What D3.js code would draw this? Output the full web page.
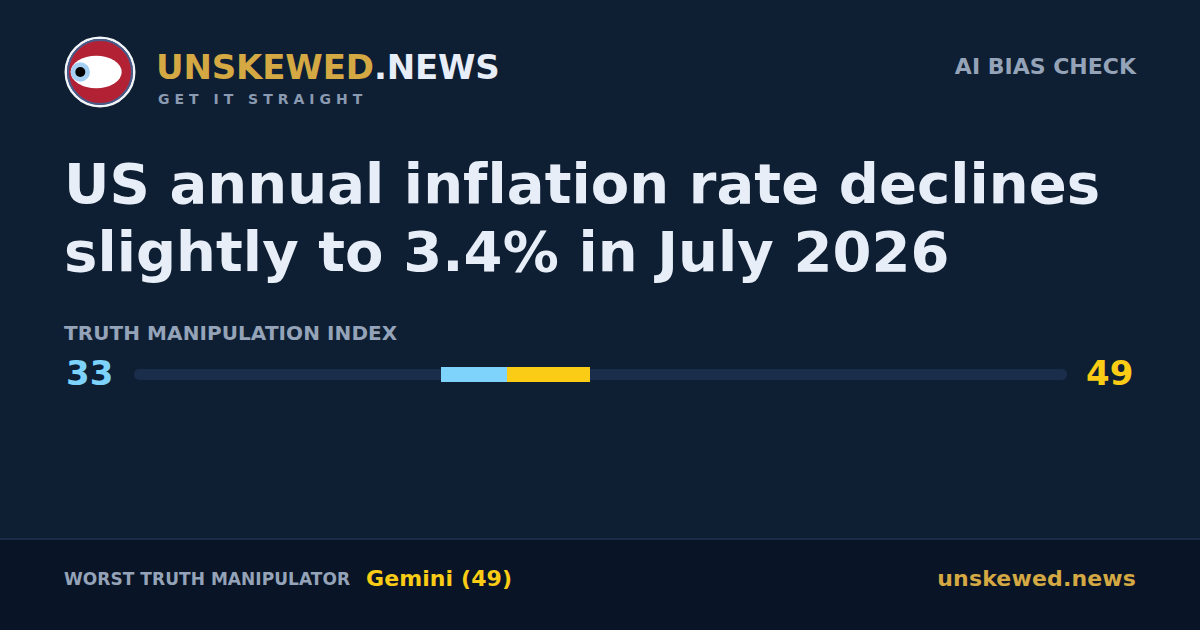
<!DOCTYPE html>
<html>
<head>
<meta charset="utf-8">
<script src="https://cdn.jsdelivr.net/npm/d3@7"></script>
<style>
  html, body { margin: 0; padding: 0; background: #0e1e33; }
  svg { display: block; }
  text { font-family: "DejaVu Sans", sans-serif; font-weight: 700; text-rendering: optimizeSpeed; font-variant-ligatures: none; }
</style>
</head>
<body>
<svg id="canvas" width="1200" height="630"></svg>
<script>
// index range and the score band
let indexDomain = [0, 100]
let lowScore = 33
let midScore = 40
let highScore = 49
let segmentStarts = [lowScore, midScore]
let segmentEnds = [midScore, highScore]
let segmentColors = ['#7dd3fc', '#facc15']

let titleLines = ['US annual inflation rate declines', 'slightly to 3.4% in July 2026']

let canvas = d3.select('#canvas')

// rounded so the segment edges stay crisp
let x = d3.scaleLinear().domain(indexDomain).range([134.2, 1065.2]).interpolate(d3.interpolateRound)

let addText = (str, px, py, size, fill, anchor, spacing) => {
    return canvas.append('text')
        .text(str)
        .attr('x', px)
        .attr('y', py)
        .attr('font-size', size)
        .attr('fill', fill)
        .attr('text-anchor', anchor || 'start')
        .attr('letter-spacing', spacing || 0)
}

// background and footer
canvas.append('rect').attr('width', 1200).attr('height', 630).attr('fill', '#0e1e33')
canvas.append('rect').attr('y', 538).attr('width', 1200).attr('height', 92).attr('fill', '#091426')
canvas.append('rect').attr('y', 538).attr('width', 1200).attr('height', 2).attr('fill', '#1a2c47')

// logo
let logo = canvas.append('g')
logo.append('circle').attr('cx', 100).attr('cy', 72).attr('r', 34.2).attr('fill', '#0e1e33').attr('stroke', '#f1f5f9').attr('stroke-width', 2.6)
logo.append('circle').attr('cx', 100).attr('cy', 72).attr('r', 32).attr('fill', '#b22234').attr('stroke', '#4a5a8a').attr('stroke-width', 2)
logo.append('ellipse').attr('cx', 96.2).attr('cy', 72).attr('rx', 25.5).attr('ry', 16.3).attr('fill', '#ffffff')
logo.append('circle').attr('cx', 80.3).attr('cy', 72).attr('r', 9.7).attr('fill', '#a5cff2')
logo.append('circle').attr('cx', 80.3).attr('cy', 72).attr('r', 5).attr('fill', '#000000')

// header text
let brand = addText('UNSKEWED', 156, 79, 34, '#d4a843', 'start', -0.15)
brand.append('tspan').text('.NEWS').attr('fill', '#e8eef7')
addText('GET IT STRAIGHT', 158, 103.5, 14, '#8a9ab0', 'start', 5)
addText('AI BIAS CHECK', 1136, 74, 22, '#94a3b8', 'end')

// title
canvas.selectAll('.title')
    .data(titleLines)
    .enter()
    .append('text')
    .attr('class', 'title')
    .text((line) => line)
    .attr('x', 64)
    .attr('y', (line, i) => 203 + i * 68)
    .attr('font-size', 56)
    .attr('letter-spacing', 0.07)
    .attr('fill', '#e8eef7')

// index bar
addText('TRUTH MANIPULATION INDEX', 64, 340, 20, '#94a3b8', 'start', 0.08)
addText(lowScore, 66, 385, 34, '#7dd3fc')
addText(highScore, 1086, 385, 34, '#facc15')

canvas.append('rect')
    .attr('x', x(indexDomain[0]))
    .attr('y', 369)
    .attr('width', x(indexDomain[1]) - x(indexDomain[0]) + 2)
    .attr('height', 11)
    .attr('rx', 5)
    .attr('fill', '#1a2d4a')

canvas.selectAll('.segment')
    .data(segmentStarts)
    .enter()
    .append('rect')
    .attr('class', 'segment')
    .attr('x', (d) => x(d))
    .attr('y', 367)
    .attr('width', (d, i) => x(segmentEnds[i]) - x(d))
    .attr('height', 15)
    .attr('fill', (d, i) => segmentColors[i])

// footer text
addText('WORST TRUTH MANIPULATOR', 64, 585, 17, '#94a3b8', 'start', 0.05)
addText('Gemini (' + highScore + ')', 366, 586, 22, '#facc15', 'start', 0.1)
addText('unskewed.news', 1136, 586, 22, '#d4a843', 'end', 0.15)
</script>
</body>
</html>
